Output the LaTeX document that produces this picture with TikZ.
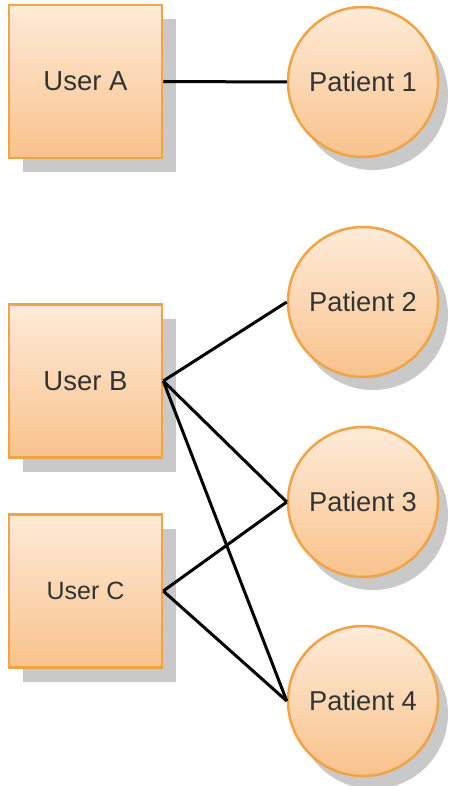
\documentclass[tikz,border=0pt]{standalone}
\usepackage{fontspec}
\setmainfont{Liberation Sans}
\usetikzlibrary{shadows}
\definecolor{edgeorange}{HTML}{F0A445}
\definecolor{filltop}{HTML}{FDEBD8}
\definecolor{fillbottom}{HTML}{F9C28C}
\definecolor{shadowgray}{HTML}{C9C9C9}
\definecolor{textgray}{HTML}{333333}
\tikzset{
  user/.style={rectangle, minimum size=153pt, inner sep=0pt,
    draw=edgeorange, line width=2.5pt,
    top color=filltop, bottom color=fillbottom,
    drop shadow={shadow xshift=14pt, shadow yshift=-14pt, fill=shadowgray, opacity=1},
    text=textgray, font=\fontsize{27.5}{32}\selectfont},
  patient/.style={circle, minimum size=150pt, inner sep=0pt,
    draw=edgeorange, line width=2.5pt,
    top color=filltop, bottom color=fillbottom,
    drop shadow={shadow xshift=10pt, shadow yshift=-13pt, fill=shadowgray, opacity=1},
    text=textgray, font=\fontsize{27.3}{32}\selectfont},
  link/.style={line width=3pt, black}
}
\begin{document}
\begin{tikzpicture}[x=1pt, y=-1pt]
  \useasboundingbox (0,0) rectangle (451,786);
  \node[user] (ua) at (85.5,81.5) {User A};
  \node[user] (ub) at (85.5,381) {User B};
  \node[user, font=\fontsize{25}{30}\selectfont] (uc) at (85.5,591) {User C};
  \node[patient] (p1) at (363,82) {Patient 1};
  \node[patient] (p2) at (363,302) {Patient 2};
  \node[patient] (p3) at (363,502) {Patient 3};
  \node[patient] (p4) at (363,701) {Patient 4};
  \draw[link] (ua.east) -- (p1.west);
  \draw[link] (ub.east) -- (p2.west);
  \draw[link] (ub.east) -- (p3.west);
  \draw[link] (ub.east) -- (p4.west);
  \draw[link] (uc.east) -- (p3.west);
  \draw[link] (uc.east) -- (p4.west);
\end{tikzpicture}
\end{document}
